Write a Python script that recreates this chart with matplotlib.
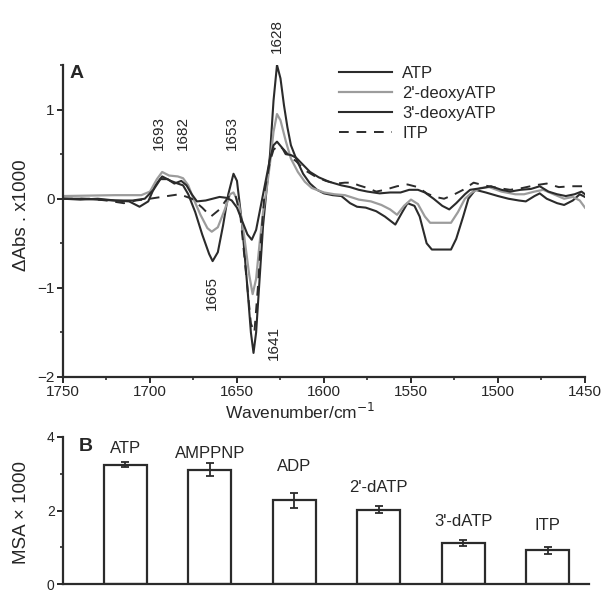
import matplotlib
matplotlib.use("Agg")
import matplotlib.pyplot as plt
from matplotlib.ticker import MultipleLocator

plt.rcParams['font.family'] = ['Liberation Sans', 'DejaVu Sans']

# --- panel A: difference spectra (wavenumber, dAbs x1000) ---
atp_wn = [1750, 1740, 1730, 1720, 1712, 1706, 1701, 1697, 1693, 1688, 1684, 1681, 1678,
          1674, 1670, 1666, 1664, 1661, 1658, 1655, 1652, 1650, 1647, 1644, 1642, 1640.5,
          1639, 1637, 1635, 1633, 1631, 1629, 1627, 1625, 1623, 1621, 1619, 1616, 1612,
          1608, 1604, 1600, 1595, 1590, 1585, 1581, 1576, 1570, 1565, 1559, 1555, 1552,
          1548, 1545, 1541, 1538, 1527, 1524, 1520, 1517, 1513, 1507, 1500, 1494, 1488,
          1484, 1479, 1476, 1472, 1466, 1462, 1457, 1453, 1450]
atp_val = [0.0, -0.01, 0.0, -0.02, -0.03, -0.09, -0.03, 0.15, 0.25, 0.2, 0.17, 0.15, 0.05,
           -0.15, -0.4, -0.62, -0.70, -0.6, -0.3, 0.05, 0.28, 0.2, -0.3, -1.0, -1.5, -1.73,
           -1.5, -0.9, -0.3, 0.1, 0.5, 1.1, 1.5, 1.35, 1.05, 0.8, 0.6, 0.45, 0.28,
           0.17, 0.1, 0.06, 0.04, 0.03, -0.05, -0.09, -0.1, -0.14, -0.2, -0.29, -0.15, -0.05,
           -0.08, -0.2, -0.5, -0.57, -0.57, -0.45, -0.2, 0.0, 0.1, 0.07, 0.03, 0.0, -0.02,
           -0.03, 0.03, 0.06, 0.0, -0.05, -0.07, -0.02, 0.05, 0.02]

datp2_wn = [1750, 1720, 1705, 1700, 1696, 1693, 1689, 1684, 1681, 1678, 1675, 1671, 1667,
            1664.5, 1661, 1657, 1654, 1652, 1649, 1646, 1643, 1641, 1639, 1637, 1635, 1633,
            1631, 1629, 1627, 1625, 1622, 1619, 1615, 1611, 1607, 1600, 1594, 1588, 1580,
            1573, 1567, 1562, 1558, 1554, 1550, 1546, 1542, 1539, 1527, 1523, 1519, 1515,
            1510, 1505, 1498, 1490, 1485, 1479, 1474, 1468, 1462, 1457, 1453, 1450]
datp2_val = [0.03, 0.04, 0.04, 0.08, 0.22, 0.3, 0.26, 0.25, 0.23, 0.15, 0.0, -0.18, -0.33,
             -0.37, -0.32, -0.12, 0.05, 0.07, -0.05, -0.4, -0.85, -1.07, -0.9, -0.5, -0.15, 0.1,
             0.4, 0.75, 0.95, 0.88, 0.65, 0.45, 0.3, 0.19, 0.12, 0.07, 0.05, 0.04, -0.01,
             -0.03, -0.07, -0.12, -0.18, -0.08, -0.01, -0.06, -0.2, -0.27, -0.27, -0.15, 0.0, 0.07,
             0.12, 0.13, 0.08, 0.05, 0.05, 0.08, 0.1, 0.05, 0.0, 0.02, -0.02, -0.1]

datp3_wn = [1750, 1740, 1730, 1720, 1710, 1703, 1698, 1694, 1690, 1686, 1682, 1679, 1676,
            1673, 1668, 1664, 1660, 1656, 1653, 1650, 1647, 1644, 1641.5, 1639, 1637, 1635,
            1633, 1631, 1629, 1627, 1624, 1622, 1619, 1616, 1612, 1608, 1603, 1597, 1590,
            1585, 1580, 1575, 1568, 1562, 1556, 1551, 1546, 1542, 1537, 1532, 1528, 1524,
            1519, 1516, 1509, 1504, 1498, 1493, 1487, 1481, 1476, 1471, 1466, 1461, 1456,
            1452, 1450]
datp3_val = [0.0, 0.0, -0.01, -0.02, -0.02, 0.0, 0.1, 0.22, 0.22, 0.17, 0.2, 0.15, 0.05,
             -0.03, -0.02, 0.0, 0.02, 0.01, -0.02, -0.1, -0.25, -0.4, -0.46, -0.35, -0.15, 0.05,
             0.25, 0.45, 0.6, 0.64, 0.57, 0.5, 0.49, 0.46, 0.38, 0.3, 0.24, 0.19, 0.15,
             0.13, 0.1, 0.08, 0.06, 0.07, 0.07, 0.1, 0.1, 0.07, 0.0, -0.08, -0.12, -0.05,
             0.05, 0.1, 0.12, 0.14, 0.1, 0.08, 0.1, 0.11, 0.14, 0.08, 0.05, 0.03, 0.05,
             0.08, 0.05]

itp_wn = [1750, 1735, 1725, 1715, 1708, 1700, 1690, 1683, 1676, 1670, 1665, 1660, 1655,
          1651, 1648, 1645, 1642, 1640, 1638, 1636, 1634, 1631, 1629, 1626, 1623, 1620,
          1616, 1611, 1605, 1599, 1593, 1588, 1584, 1580, 1575, 1570, 1565, 1558, 1552,
          1546, 1541, 1536, 1531, 1526, 1520, 1514, 1508, 1500, 1493, 1486, 1479, 1472,
          1465, 1458, 1452, 1450]
itp_val = [0.0, 0.0, -0.02, -0.05, -0.02, 0.0, 0.03, 0.05, 0.0, -0.1, -0.2, -0.12, 0.02,
           0.05, -0.2, -0.8, -1.4, -1.5, -1.0, -0.4, 0.1, 0.42, 0.55, 0.6, 0.55, 0.48,
           0.42, 0.32, 0.25, 0.2, 0.17, 0.18, 0.18, 0.15, 0.12, 0.08, 0.1, 0.14, 0.16,
           0.13, 0.06, 0.02, 0.0, 0.04, 0.1, 0.18, 0.15, 0.12, 0.1, 0.12, 0.15, 0.17,
           0.13, 0.14, 0.14, 0.14]

peak_labels = ['1693', '1682', '1653', '1628', '1665', '1641']
peak_x = [1695, 1681, 1653, 1627, 1664.5, 1629]
peak_y = [0.74, 0.74, 0.74, 1.82, -1.06, -1.62]

# --- panel B: maximum signal amplitude ---
nucleotides = ['ATP', 'AMPPNP', 'ADP', "2'-dATP", "3'-dATP", 'ITP']
msa = [3.25, 3.11, 2.28, 2.02, 1.11, 0.92]
msa_err = [0.06, 0.18, 0.2, 0.09, 0.08, 0.1]
label_y = [3.68, 3.55, 3.21, 2.63, 1.71, 1.58]

dark = '#2b2b2b'
gray = '#9c9c9c'
txt = '#262626'

fig = plt.figure(figsize=(6.05, 5.91), dpi=100)

ax = fig.add_axes([0.1041, 0.3621, 0.8628, 0.5279])
ax.plot(atp_wn, atp_val, color=dark, lw=1.5, label='ATP')
ax.plot(datp2_wn, datp2_val, color=gray, lw=1.6, label="2'-deoxyATP")
ax.plot(datp3_wn, datp3_val, color=dark, lw=1.5, label="3'-deoxyATP")
ax.plot(itp_wn, itp_val, color=dark, lw=1.4, dashes=(5, 4), label='ITP')
ax.set_xlim(1750, 1450)
ax.set_ylim(-2, 1.5)
ax.xaxis.set_major_locator(MultipleLocator(50))
ax.xaxis.set_minor_locator(MultipleLocator(25))
ax.yaxis.set_major_locator(MultipleLocator(1))
ax.yaxis.set_minor_locator(MultipleLocator(0.5))
for s in ['top', 'right']:
    ax.spines[s].set_visible(False)
for s in ['left', 'bottom']:
    ax.spines[s].set_linewidth(1.6)
    ax.spines[s].set_color(dark)
ax.tick_params(which='major', length=4, width=1.4, color=dark, labelsize=11, labelcolor=txt, pad=2)
ax.tick_params(which='minor', length=2.5, width=1.2, color=dark)
ax.text(1746, 1.5, 'A', fontsize=14, fontweight='bold', color=txt, va='top', ha='left')
for lab, x, y in zip(peak_labels, peak_x, peak_y):
    ax.text(x, y, lab, rotation=90, fontsize=11, color=txt, ha='center', va='center', clip_on=False)
ax.legend(loc='upper left', bbox_to_anchor=(0.5, 1.045), frameon=False, fontsize=12,
          handlelength=3.2, handletextpad=0.6, labelspacing=0.3, labelcolor=txt)
fig.text(0.496, 0.303, 'Wavenumber/cm$^{-1}$', fontsize=12.5, color=txt, ha='center', va='center')
fig.text(0.035, 0.636, 'ΔAbs . x1000', fontsize=13.5, color=txt, rotation=90, ha='center', va='center')

bx = fig.add_axes([0.1041, 0.0118, 0.8694, 0.2488])
xs = list(range(len(nucleotides)))
bx.bar(xs, msa, width=0.51, color='white', edgecolor=dark, linewidth=1.6)
bx.errorbar(xs, msa, yerr=msa_err, fmt='none', ecolor=dark, elinewidth=1.3, capsize=3, capthick=1.3)
for x, lab, y in zip(xs, nucleotides, label_y):
    bx.text(x, y, lab, fontsize=12, color=txt, ha='center', va='center')
bx.set_xlim(-0.74, 5.49)
bx.set_ylim(0, 4)
bx.set_xticks([])
bx.yaxis.set_major_locator(MultipleLocator(2))
bx.yaxis.set_minor_locator(MultipleLocator(1))
for s in ['top', 'right']:
    bx.spines[s].set_visible(False)
for s in ['left', 'bottom']:
    bx.spines[s].set_linewidth(1.6)
    bx.spines[s].set_color(dark)
bx.tick_params(which='major', length=4, width=1.4, color=dark, labelsize=11, labelcolor=txt, pad=2)
bx.tick_params(which='minor', length=2.5, width=1.2, color=dark)
bx.tick_params(axis='y', which='major', labelsize=10)
bx.text(0.03, 3.98, 'B', transform=bx.get_yaxis_transform(), fontsize=14, fontweight='bold',
        color=txt, va='top', ha='left')
fig.text(0.035, 0.132, 'MSA × 1000', fontsize=13.5, color=txt, rotation=90, ha='center', va='center')

fig.savefig('out.png', dpi=100)
